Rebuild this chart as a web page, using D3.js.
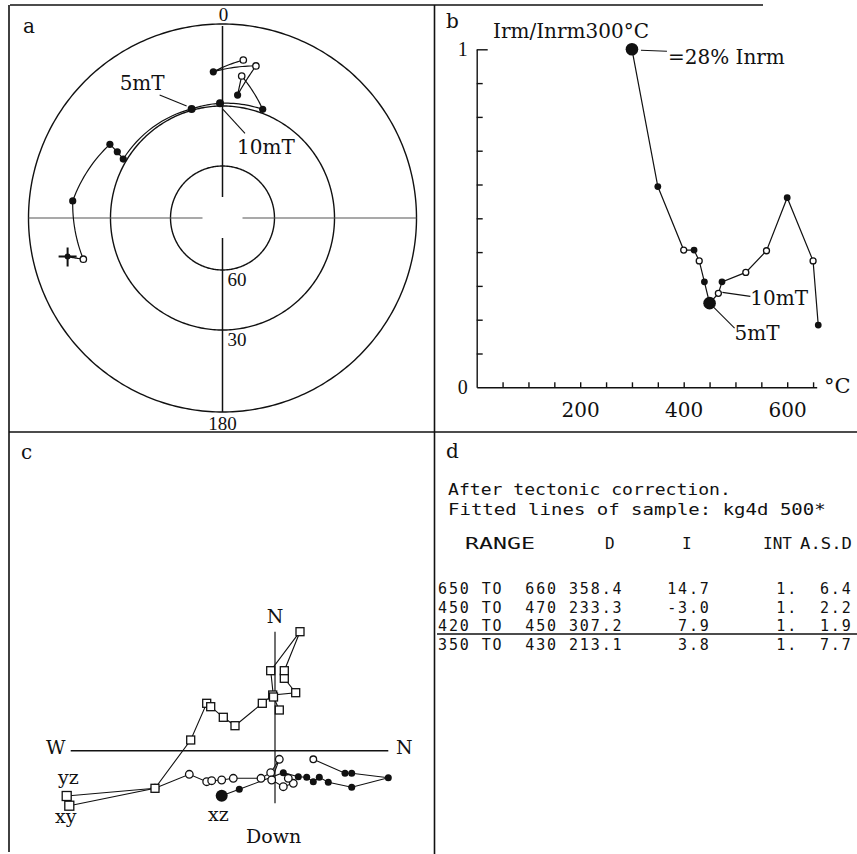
<!DOCTYPE html>
<html><head><meta charset="utf-8">
<script src="https://cdnjs.cloudflare.com/ajax/libs/d3/7.8.5/d3.min.js"></script>
<style>html,body{margin:0;padding:0;background:#fff}svg{display:block}</style>
</head><body>
<svg id="chart" width="857" height="854"></svg>
<script>
// ---------- DATA ----------
// Panel a: stereonet path (declination, inclination; negative = upper hemisphere)
const aDec = [256.0, 253.5, 276.5, 303.2, 302.2, 300.7, 344.2, 358.75, 20.3, 7.7, 7.0, 12.4, 356.4, 7.5];
const aInc = [11.1, -16.4, 14.3, 20.5, 24.7, 28.5, 29.4, 28.8, 28.3, -17.1, 24.9, -12.5, 15.9, -11.2];
const aIncCircles = [0, 30, 60];
const aIncLabels = ["30", "60"];
const aDirLabels = ["0", "180"];
const aStepLabels = ["5mT", "10mT"];   // annotate path points 6 and 7

// Panel b: normalized IRM vs temperature
const bTemp  = [300, 350, 400, 420, 430, 440, 450, 467, 474, 520, 560, 600, 650, 660];
const bRatio = [1.0, 0.594, 0.406, 0.406, 0.374, 0.312, 0.249, 0.278, 0.312, 0.340, 0.404, 0.561, 0.374, 0.184];
const bLower = [true, true, false, true, false, true, true, false, true, false, false, true, false, true];
const bKeySteps = [300, 450];
const bXMinor = [50, 100, 150, 200, 250, 300, 350, 400, 450, 500, 550, 600, 650];
const bXLabels = [200, 400, 600];
const bYMinor = [0.1, 0.2, 0.3, 0.4, 0.5, 0.6, 0.7, 0.8, 0.9];
const bYLabels = [0, 1];

// Panel c: orthogonal (Zijderveld) projections
const xyH = [-20.57, -12.0, -8.43, -6.83, -6.43, -5.17, -4.0, -1.27, -0.23, 2.07, 0.93, 0.93, 2.5, -0.43, -0.15, 0.43];
const xyV = [-5.5, -3.76, 1.07, 4.74, 4.4, 3.34, 2.5, 4.74, 5.57, 5.8, 7.24, 8.0, 11.9, 8.0, 5.37, 4.07];
const yzH = [-20.83, -12.0, -8.57, -6.83, -6.33, -5.33, -4.17, -1.4, -0.43, 0.43, -0.33, 0.83, 1.83, 1.33];
const yzV = [-4.53, -3.76, -2.36, -3.1, -3.0, -2.93, -2.76, -2.76, -2.2, -0.86, -2.93, -3.6, -3.26, -2.76];
const xzH = [-5.33, -3.57, 0.83, 2.33, 3.17, 3.83, 4.43, 5.33, 7.67, 11.33, 7.67, 7.0, 3.83];
const xzV = [-4.5, -3.86, -2.2, -2.6, -2.66, -3.1, -2.66, -3.16, -3.66, -2.7, -2.26, -2.26, -0.86];
const xzOpen = [false, false, false, false, false, false, false, false, false, false, false, false, true];

// Panel d: fitted lines table
const dHeader = ["After tectonic correction.", "Fitted lines of sample: kg4d 500*"];
const dCols = ["RANGE", "D", "I", "INT", "A.S.D"];
const dFrom = [650, 450, 420, 350];
const dTo   = [660, 470, 450, 430];
const dDec  = [358.4, 233.3, 307.2, 213.1];
const dInc  = [14.7, -3.0, 7.9, 3.8];
const dInt  = [1, 1, 1, 1];
const dAsd  = [6.4, 2.2, 1.9, 7.7];

// ---------- DRAW ----------
const svg = d3.select("#chart");
const SERIF = "'DejaVu Serif', serif";
const TIMES = "'Liberation Serif', 'Times New Roman', serif";
const MONO = "'DejaVu Sans Mono', monospace";

// frame
const frame = svg.append("g").attr("stroke", "#111").attr("stroke-width", 1.6);
[[10,5,763,5],[9,5,9,852],[434.5,5,434.5,854],[9,432,857,432]].forEach(l =>
  frame.append("line").attr("x1",l[0]).attr("y1",l[1]).attr("x2",l[2]).attr("y2",l[3]));

function panelLetter(t, x, y) {
  svg.append("text").attr("x", x).attr("y", y).text(t)
    .attr("font-family", SERIF).attr("font-size", 20).attr("fill", "#111");
}
panelLetter("a", 23, 33); panelLetter("b", 446, 28); panelLetter("c", 21, 459); panelLetter("d", 446, 458);

// ---- Panel a ----
const A = { cx: 222.5, cy: 218, R: 194 };
const proj = d3.geoStereographic().rotate([0, -90]).scale(A.R).translate([A.cx, A.cy]).clipAngle(179);
const geo = d3.geoPath(proj);
const P = (d, i) => proj([180 - d, Math.abs(i)]);
const ga = svg.append("g");
aIncCircles.forEach(inc => {
  ga.append("path").datum(d3.geoCircle().center([0, 90]).radius(90 - inc).precision(1)())
    .attr("d", geo).attr("fill", "none").attr("stroke", "#111").attr("stroke-width", 1.4);
});
// cross-hair
const ch = ga.append("g");
ch.append("line").attr("x1", A.cx - A.R).attr("x2", A.cx - 20).attr("y1", A.cy).attr("y2", A.cy);
ch.append("line").attr("x1", A.cx + 20).attr("x2", A.cx + A.R).attr("y1", A.cy).attr("y2", A.cy);
ch.selectAll("line").attr("stroke", "#555").attr("stroke-width", 1.1);
ch.append("line").attr("x1", A.cx).attr("x2", A.cx).attr("y1", A.cy - A.R + 2).attr("y2", A.cy - 21).attr("stroke", "#111").attr("stroke-width", 1.5);
ch.append("line").attr("x1", A.cx).attr("x2", A.cx).attr("y1", A.cy + 20).attr("y2", A.cy + A.R).attr("stroke", "#111").attr("stroke-width", 1.5);
// labels
ga.append("text").attr("x", A.cx + 1).attr("y", A.cy - A.R - 3).attr("text-anchor", "middle").text(aDirLabels[0]);
ga.append("text").attr("x", A.cx).attr("y", A.cy + A.R + 18).attr("text-anchor", "middle").text(aDirLabels[1]);
aIncLabels.forEach(t => {
  const p = P(0, +t);
  const r = A.cy - p[1];
  ga.append("text").attr("x", A.cx + 5).attr("y", A.cy + r + 16).text(t);
});
ga.selectAll("text").attr("font-family", TIMES).attr("font-size", 19).attr("fill", "#111");
// path with dec/inc interpolated segments
const pathPts = [];
for (let i = 0; i < aDec.length - 1; i++) {
  const d0 = aDec[i], dd = ((aDec[i + 1] - d0 + 540) % 360) - 180;
  const i0 = Math.abs(aInc[i]), i1 = Math.abs(aInc[i + 1]);
  const n = 16;
  for (let k = (i === 0 ? 0 : 1); k <= n; k++) pathPts.push(P(d0 + dd * k / n, i0 + (i1 - i0) * k / n));
}
ga.append("path").attr("d", d3.line()(pathPts)).attr("fill", "none").attr("stroke", "#111").attr("stroke-width", 1.2);
aDec.forEach((d, i) => {
  const p = P(d, aInc[i]);
  if (i === 0) {
    ga.append("path").attr("d", `M${p[0]-9},${p[1]}H${p[0]+9}M${p[0]},${p[1]-9}V${p[1]+10}`)
      .attr("stroke", "#111").attr("stroke-width", 2);
    ga.append("circle").attr("cx", p[0]).attr("cy", p[1]).attr("r", 3).attr("fill", "#111");
  } else if (aInc[i] >= 0) {
    ga.append("circle").attr("cx", p[0]).attr("cy", p[1]).attr("r", (i === 6 || i === 7) ? 4 : 3.6).attr("fill", "#111");
  } else {
    ga.append("circle").attr("cx", p[0]).attr("cy", p[1]).attr("r", 3.2).attr("fill", "#fff").attr("stroke", "#111").attr("stroke-width", 1.3);
  }
});
{
  const p6 = P(aDec[6], aInc[6]), p7 = P(aDec[7], aInc[7]);
  ga.append("line").attr("x1", p6[0] - 32).attr("y1", p6[1] - 14).attr("x2", p6[0] - 5).attr("y2", p6[1] - 3).attr("stroke", "#111").attr("stroke-width", 1.1);
  ga.append("text").attr("x", p6[0] - 72).attr("y", p6[1] - 19).text(aStepLabels[0]).attr("font-family", SERIF).attr("font-size", 20).attr("fill", "#111");
  ga.append("line").attr("x1", p7[0] + 3).attr("y1", p7[1] + 6).attr("x2", p7[0] + 25).attr("y2", p7[1] + 30).attr("stroke", "#111").attr("stroke-width", 1.1);
  ga.append("text").attr("x", p7[0] + 17).attr("y", p7[1] + 51).text(aStepLabels[1]).attr("font-family", SERIF).attr("font-size", 20).attr("fill", "#111");
}

// ---- Panel b ----
const bx = d3.scaleLinear().domain([0, 657]).range([476.7, 816.7]);
const by = d3.scaleLinear().domain([0, 1]).range([387.3, 49.3]);
const gb = svg.append("g");
const styleAxis = g => { g.selectAll("path,line").attr("stroke", "#111").attr("stroke-width", 1.4);
  g.attr("font-family", TIMES).attr("font-size", 20); g.selectAll("text").attr("fill", "#111"); };
gb.append("g").attr("transform", `translate(0,${by(0)})`)
  .call(d3.axisBottom(bx).tickValues(bXMinor).tickSize(-5).tickSizeOuter(0).tickFormat("")).call(styleAxis);
gb.append("g").attr("transform", `translate(0,${by(0)})`)
  .call(d3.axisBottom(bx).tickValues(bXLabels).tickSize(0).tickPadding(16).tickFormat(d3.format("d")))
  .call(g => g.select(".domain").remove()).call(styleAxis)
  .attr("font-family", SERIF).attr("font-size", 20);
gb.append("g").attr("transform", `translate(${bx(0)},0)`)
  .call(d3.axisLeft(by).tickValues(bYMinor).tickSize(-6).tickSizeOuter(0).tickFormat("")).call(styleAxis);
gb.append("g").attr("transform", `translate(${bx(0)},0)`)
  .call(d3.axisLeft(by).tickValues([1]).tickSize(-11).tickFormat("")).call(g => g.select(".domain").remove()).call(styleAxis);
gb.append("g").attr("transform", `translate(${bx(0)},0)`)
  .call(d3.axisLeft(by).tickValues(bYLabels).tickSize(0).tickPadding(9).tickFormat(d3.format("d")))
  .call(g => g.select(".domain").remove()).call(styleAxis);
gb.append("text").attr("x", 493).attr("y", 38).text("Irm/Inrm300°C").attr("font-family", SERIF).attr("font-size", 20).attr("fill", "#111");
gb.append("text").attr("x", 824).attr("y", 393).text("°C").attr("font-family", SERIF).attr("font-size", 21).attr("fill", "#111");
gb.append("path").attr("d", d3.line().x((d, i) => bx(bTemp[i])).y((d, i) => by(bRatio[i]))(bTemp))
  .attr("fill", "none").attr("stroke", "#111").attr("stroke-width", 1.2);
bTemp.forEach((t, i) => {
  const c = gb.append("circle").attr("cx", bx(t)).attr("cy", by(bRatio[i]));
  if (bKeySteps.includes(t)) c.attr("r", 6.3).attr("fill", "#111");
  else if (bLower[i]) c.attr("r", 3.4).attr("fill", "#111");
  else c.attr("r", 3).attr("fill", "#fff").attr("stroke", "#111").attr("stroke-width", 1.3);
});
{
  const ann = (t, lx0, ly0, lx1, ly1, tx, ty, label) => {
    const i = bTemp.indexOf(t), px = bx(t), py = by(bRatio[i]);
    gb.append("line").attr("x1", px + lx0).attr("y1", py + ly0).attr("x2", px + lx1).attr("y2", py + ly1).attr("stroke", "#111").attr("stroke-width", 1.1);
    gb.append("text").attr("x", px + tx).attr("y", py + ty).text(label).attr("font-family", SERIF).attr("font-size", 20).attr("fill", "#111");
  };
  ann(300, 9, 1, 35, 2, 36, 15, "=28% Inrm");
  ann(467, 4, -1, 32, 3, 32, 12, "10mT");
  ann(450, 3, 3, 25, 25, 25, 37, "5mT");
}

// ---- Panel c ----
const zx = d3.scaleLinear().domain([-20.43, 11.33]).range([70.7, 388.3]);
const zy = d3.scaleLinear().domain([-5.26, 11.9]).range([803.3, 631.7]);
const gc = svg.append("g");
gc.append("line").attr("x1", zx(-20.43)).attr("x2", zx(11.33)).attr("y1", zy(0)).attr("y2", zy(0)).attr("stroke", "#111").attr("stroke-width", 1.6);
gc.append("line").attr("x1", zx(0)).attr("x2", zx(0)).attr("y1", zy(11.9)).attr("y2", zy(-5.26)).attr("stroke", "#111").attr("stroke-width", 1.2);
const zline = (H, V) => d3.line().x((d, i) => zx(H[i])).y((d, i) => zy(V[i]))(H);
[[xyH, xyV], [yzH, yzV], [xzH, xzV]].forEach(([H, V]) =>
  gc.append("path").attr("d", zline(H, V)).attr("fill", "none").attr("stroke", "#111").attr("stroke-width", 1.1));
const sq = (x, y, s) => gc.append("rect").attr("x", x - s / 2).attr("y", y - s / 2).attr("width", s).attr("height", s)
  .attr("fill", "#fff").attr("stroke", "#111").attr("stroke-width", 1.3);
yzH.forEach((h, i) => {
  if (i === 0) sq(zx(h), zy(yzV[i]), 9);
  else gc.append("circle").attr("cx", zx(h)).attr("cy", zy(yzV[i])).attr("r", 3.8).attr("fill", "#fff").attr("stroke", "#111").attr("stroke-width", 1.3);
});
xyH.forEach((h, i) => sq(zx(h), zy(xyV[i]), i === 0 ? 9 : 8));
xzH.forEach((h, i) => {
  const c = gc.append("circle").attr("cx", zx(h)).attr("cy", zy(xzV[i]));
  if (xzOpen[i]) c.attr("r", 3.3).attr("fill", "#fff").attr("stroke", "#111").attr("stroke-width", 1.3);
  else c.attr("r", i === 0 ? 6 : 3.5).attr("fill", "#111");
});
const ctext = (t, x, y, anchor) => gc.append("text").attr("x", x).attr("y", y).text(t)
  .attr("text-anchor", anchor || "start").attr("font-family", SERIF).attr("font-size", 19).attr("fill", "#111");
ctext("N", zx(0), 623, "middle");
ctext("W", 46, 754);
ctext("N", 396, 754);
ctext("yz", 58, 784);
ctext("xy", 55, 823);
ctext("xz", 208, 821);
ctext("Down", 246, 843);

// ---- Panel d ----
const gd = svg.append("g").attr("font-family", MONO).attr("fill", "#111");
// text stretched horizontally to a target width (null = natural width)
function wideText(str, x, y, size, width) {
  const t = gd.append("text").attr("x", 0).attr("y", 0).text(str).attr("font-size", size);
  const w = t.node().getComputedTextLength();
  const k = width ? width / w : 1;
  t.attr("transform", `translate(${x},${y}) scale(${k},1)`);
  return t;
}
wideText(dHeader[0], 448, 495, 16, 283);
wideText(dHeader[1], 448, 515, 16, 378);
const colX = [465, 605, 682, 763, 800];
const colW = [70, null, null, 29, 52];
dCols.forEach((c, i) => wideText(c, colX[i], 549, 16, colW[i]));
dFrom.forEach((f, i) => {
  const s = `${f} TO  ${dTo[i]} ${dDec[i].toFixed(1)}${dInc[i].toFixed(1).padStart(8)}${(dInt[i] + ".").padStart(8)}${dAsd[i].toFixed(1).padStart(5)}`;
  gd.append("text").attr("x", 438).attr("y", 594 + i * 18.7).text(s)
    .attr("font-size", 15).attr("letter-spacing", 1.88).attr("xml:space", "preserve").style("white-space", "pre");
});
gd.append("line").attr("x1", 437).attr("x2", 857).attr("y1", 634).attr("y2", 634).attr("stroke", "#111").attr("stroke-width", 1.5);
</script>
</body></html>
